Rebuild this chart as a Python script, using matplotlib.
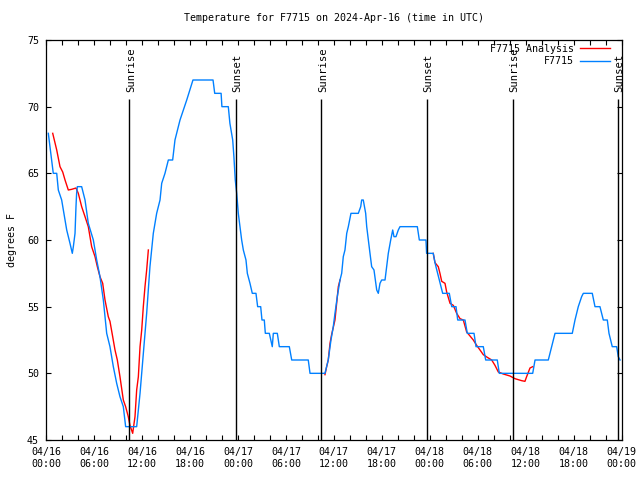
import numpy as np
import matplotlib.pyplot as plt

# time in hours since 2024-04-16 00:00 UTC
obs_hours = [0.29, 0.91, 1.34, 1.54, 1.96, 2.38, 2.59, 3.0, 3.29, 3.42, 3.63, 3.75, 3.83, 3.92,
             4.46, 4.88, 5.29, 5.92, 6.34, 6.75, 7.17, 7.59, 8.0, 8.42, 8.84, 9.25, 9.67, 9.96,
             11.34, 11.76, 12.17, 12.59, 13.0, 13.42, 13.84, 14.26, 14.47, 14.88, 15.3, 15.84,
             16.13, 16.76, 17.6, 18.38, 20.89, 21.1, 21.9, 22.0, 22.8,
             23.0, 23.35, 23.5, 23.67, 23.85, 24.05, 24.26, 24.47, 24.68, 25.01, 25.18, 25.51,
             25.8, 26.26, 26.47, 26.85, 27.01, 27.3, 27.43, 27.93, 28.3, 28.43, 28.93, 29.18,
             30.43, 30.73, 32.8, 33.02, 34.89,
             35.1, 35.3, 35.64, 35.93, 36.14, 36.43, 36.77, 36.98, 37.18, 37.39, 37.61, 37.81,
             38.14, 39.06, 39.36, 39.48, 39.68, 39.98, 40.11, 40.31, 40.52, 40.73, 41.02, 41.36,
             41.56, 41.77, 41.98, 42.4, 42.61, 42.81, 43.11, 43.36, 43.52, 43.77, 44.06, 44.27,
             46.44, 46.69, 47.52, 47.6, 48.43, 48.65, 48.77, 49.19, 49.61, 50.44, 50.74, 51.28,
             51.49, 52.4, 52.69, 53.53, 53.78, 54.69, 54.99, 56.44, 56.69, 60.87, 61.16, 62.82,
             63.24, 63.66, 65.82, 66.16, 66.57, 66.99, 67.2, 68.32, 68.66, 69.28, 69.7, 70.2,
             70.41, 70.82, 71.37, 71.57, 71.79]
obs_temp = [68.0, 65.0, 65.0, 63.75, 63.0, 61.5, 60.75, 59.75, 59.0, 59.5, 60.5, 62.5, 63.5, 64.0,
            64.0, 63.0, 61.25, 60.0, 58.5, 57.25, 55.5, 53.0, 52.0, 50.5, 49.25, 48.25, 47.5, 46.0,
            46.0, 48.5, 51.5, 54.5, 58.0, 60.5, 62.0, 63.0, 64.25, 65.0, 66.0, 66.0,
            67.5, 69.0, 70.5, 72.0, 72.0, 71.0, 71.0, 70.0, 70.0,
            68.75, 67.5, 66.25, 64.5, 63.5, 62.0, 61.0, 60.0, 59.25, 58.5, 57.5, 56.75,
            56.0, 56.0, 55.0, 55.0, 54.0, 54.0, 53.0, 53.0, 52.0, 53.0, 53.0, 52.0,
            52.0, 51.0, 51.0, 50.0, 50.0,
            50.5, 51.0, 52.5, 53.5, 54.5, 55.75, 57.0, 57.5, 58.75, 59.25, 60.5, 61.0,
            62.0, 62.0, 62.5, 63.0, 63.0, 62.0, 61.0, 60.0, 59.0, 58.0, 57.75, 56.25,
            56.0, 56.75, 57.0, 57.0, 58.0, 59.0, 60.0, 60.75, 60.25, 60.25, 60.75, 61.0,
            61.0, 60.0, 60.0, 59.0, 59.0, 58.3, 58.0, 57.0, 56.0, 56.0, 55.0, 55.0,
            54.0, 54.0, 53.0, 53.0, 52.0, 52.0, 51.0, 51.0, 50.0, 50.0, 51.0, 51.0,
            52.0, 53.0, 53.0, 54.0, 55.0, 55.75, 56.0, 56.0, 55.0, 55.0, 54.0, 54.0,
            53.0, 52.0, 52.0, 51.25, 51.0]

# analysis series, None = gap
ana_hours = [0.84, 1.34, 1.75, 2.09, 2.38, 2.79, 3.21, 3.75, 4.04, 4.46, 4.88, 5.29, 5.71, 6.13,
             6.42, 6.75, 7.09, 7.38, 7.79, 8.0, 8.34, 8.63, 8.92, 9.25, 9.67, 9.96, 10.29, 10.5,
             10.84, 11.13, 11.34, 11.55, 11.76, 11.97, 12.17, 12.38, 12.59, 12.8, None,
             34.89, 35.1, 35.3, 35.52, 35.72, 36.14, 36.35, 36.56, 36.77, None,
             48.43, 48.65, 49.06, 49.27, 49.49, 49.9, 50.11, 50.53, 50.94, 51.36, 51.78, 52.19,
             52.61, 53.03, 53.44, 53.86, 54.28, 54.69, 55.19, 55.74, 56.15, 56.57, 57.19, 58.03,
             58.65, 59.49, 59.9, 60.11, 60.53, 60.87]
ana_temp = [68.0, 66.75, 65.5, 65.1, 64.5, 63.75, 63.8, 63.9, 63.5, 62.5, 61.75, 61.0, 59.5, 58.75,
            58.0, 57.25, 56.75, 55.5, 54.25, 53.9, 52.75, 51.75, 51.0, 49.75, 48.0, 47.5, 46.75, 46.1,
            45.5, 46.75, 48.75, 49.75, 52.0, 53.25, 55.0, 56.5, 57.75, 59.25, None,
            49.9, 50.5, 51.0, 52.25, 52.9, 54.0, 55.25, 56.5, 57.0, None,
            59.0, 58.3, 58.0, 57.5, 56.9, 56.75, 56.1, 55.25, 55.1, 54.5, 54.1, 54.0,
            53.1, 52.8, 52.5, 52.1, 51.75, 51.4, 51.2, 51.0, 50.6, 50.1, 49.95, 49.8,
            49.6, 49.45, 49.4, 49.75, 50.4, 50.5]

sun_hours = [10.42, 23.72, 34.43, 47.6, 58.4, 71.5]
sun_labels = ['Sunrise', 'Sunset', 'Sunrise', 'Sunset', 'Sunrise', 'Sunset']

tick_hours = list(range(0, 73, 6))
tick_labels = ['04/16\n00:00', '04/16\n06:00', '04/16\n12:00', '04/16\n18:00',
               '04/17\n00:00', '04/17\n06:00', '04/17\n12:00', '04/17\n18:00',
               '04/18\n00:00', '04/18\n06:00', '04/18\n12:00', '04/18\n18:00',
               '04/19\n00:00']

plt.rcParams['font.family'] = 'DejaVu Sans Mono'
plt.rcParams['font.size'] = 7.2

fig = plt.figure(figsize=(6.4, 4.8), dpi=100)
ax = fig.add_axes([46 / 640, 40 / 480, 575.7 / 640, 400 / 480])

ana_x = np.array([np.nan if v is None else v for v in ana_hours], dtype=float)
ana_y = np.array([np.nan if v is None else v for v in ana_temp], dtype=float)
ax.plot(ana_x, ana_y, color='#ff0000', lw=1.0, label='F7715 Analysis')
ax.plot(obs_hours, obs_temp, color='#0080ff', lw=1.0, label='F7715')

for h, lab in zip(sun_hours, sun_labels):
    ax.vlines(h, 45, 70.6, color='black', lw=1.0)
    ax.text(h + 0.2, 71.1, lab, rotation=90, ha='center', va='bottom', fontsize=7.6)

ax.set_xlim(0, 72)
ax.set_ylim(45, 75)
ax.set_xticks(tick_hours)
ax.set_xticklabels(tick_labels)
ax.set_xticks(range(0, 73, 2), minor=True)
ax.set_yticks([45, 50, 55, 60, 65, 70, 75])
ax.tick_params(which='both', direction='in', top=True, right=True, length=3.5, width=0.8)
ax.tick_params(axis='x', pad=5)
ax.tick_params(axis='y', pad=5)
for s in ax.spines.values():
    s.set_linewidth(0.9)

ax.set_title('Temperature for F7715 on 2024-Apr-16 (time in UTC)', fontsize=7.2, pad=14)
ax.set_ylabel('degrees F')
ax.yaxis.set_label_coords(-0.051, 0.5)

ax.legend(loc='upper right', bbox_to_anchor=(0.9896, 1.006), frameon=False, markerfirst=False,
          handlelength=3.0, handletextpad=0.6, labelspacing=0.25, borderaxespad=0.3, borderpad=0.3)

fig.savefig('out.png', dpi=100)
